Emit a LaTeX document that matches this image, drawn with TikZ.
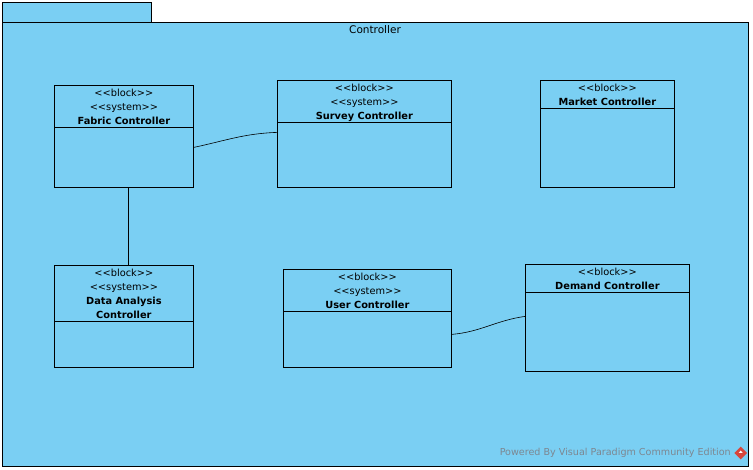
\documentclass[tikz,border=0pt]{standalone}
\usepackage{fontspec}
\setmainfont{DejaVu Sans}
\usetikzlibrary{shapes.geometric, positioning}

\definecolor{pkgblue}{RGB}{122,207,243}
\definecolor{vpgray}{RGB}{125,135,145}
\definecolor{vpred}{RGB}{215,70,60}

\tikzset{
	block/.style={draw, thick, anchor=north west, inner sep=0pt},
	head/.style={align=center, font=\fontsize{9.8}{14}\selectfont, inner sep=0pt, anchor=north},
}
\newcommand{\stereo}[1]{<{}<#1>{}>}

\begin{document}
\begin{tikzpicture}[x=1pt, y=-1pt]
	\useasboundingbox (0,0) rectangle (753,470);

	% package frame
	\draw[thick, fill=pkgblue] (2,2) rectangle (151,22);
	\draw[thick, fill=pkgblue] (2,22) rectangle (748,466);
	\node[font=\fontsize{10.5}{12}\selectfont] (title) at (375,29.5) {Controller};

	% blocks
	\node[block, minimum width=139pt, minimum height=102pt] (fabric) at (54,85) {};
	\node[block, minimum width=174pt, minimum height=107pt] (survey) at (277,80) {};
	\node[block, minimum width=134pt, minimum height=107pt] (market) at (540,80) {};
	\node[block, minimum width=139pt, minimum height=102pt] (data) at (54,265) {};
	\node[block, minimum width=168pt, minimum height=98pt] (user) at (283,269) {};
	\node[block, minimum width=164pt, minimum height=107pt] (demand) at (525,264) {};

	\draw[thick] ([yshift=-42pt]fabric.north west) -- ([yshift=-42pt]fabric.north east);
	\draw[thick] ([yshift=-42pt]survey.north west) -- ([yshift=-42pt]survey.north east);
	\draw[thick] ([yshift=-28pt]market.north west) -- ([yshift=-28pt]market.north east);
	\draw[thick] ([yshift=-56pt]data.north west) -- ([yshift=-56pt]data.north east);
	\draw[thick] ([yshift=-42pt]user.north west) -- ([yshift=-42pt]user.north east);
	\draw[thick] ([yshift=-28pt]demand.north west) -- ([yshift=-28pt]demand.north east);

	\node[head] (fabrictxt) at ([yshift=-4pt]fabric.north) {\stereo{block}\\\stereo{system}\\\textbf{Fabric Controller}};
	\node[head] (surveytxt) at ([yshift=-4pt]survey.north) {\stereo{block}\\\stereo{system}\\\textbf{Survey Controller}};
	\node[head] (markettxt) at ([yshift=-4pt]market.north) {\stereo{block}\\\textbf{Market Controller}};
	\node[head] (datatxt) at ([yshift=-4pt]data.north) {\stereo{block}\\\stereo{system}\\\textbf{Data Analysis}\\\textbf{Controller}};
	\node[head] (usertxt) at ([yshift=-4pt]user.north) {\stereo{block}\\\stereo{system}\\\textbf{User Controller}};
	\node[head] (demandtxt) at ([yshift=-4pt]demand.north) {\stereo{block}\\\textbf{Demand Controller}};

	% connectors
	\draw[semithick] ([yshift=-11pt]fabric.east) to[out=12, in=182] ([yshift=1.5pt]survey.west);
	\draw[semithick] ([xshift=4.5pt]fabric.south) -- ([xshift=4.5pt]data.north);
	\draw[semithick] ([yshift=-16pt]user.east) to[out=5, in=188] ([yshift=1.5pt]demand.west);

	% watermark
	\node[anchor=east, text=vpgray, font=\fontsize{9.6}{11}\selectfont, inner sep=0pt] (powered) at (731,453) {Powered By Visual Paradigm Community Edition};
	\node[diamond, fill=vpred, minimum size=13pt, inner sep=0pt, right=3pt of powered] (logo) {};
	\fill[white] ([xshift=-2pt]logo.center) -- ([yshift=2.5pt]logo.center) -- ([xshift=2pt]logo.center) -- cycle;
\end{tikzpicture}
\end{document}
